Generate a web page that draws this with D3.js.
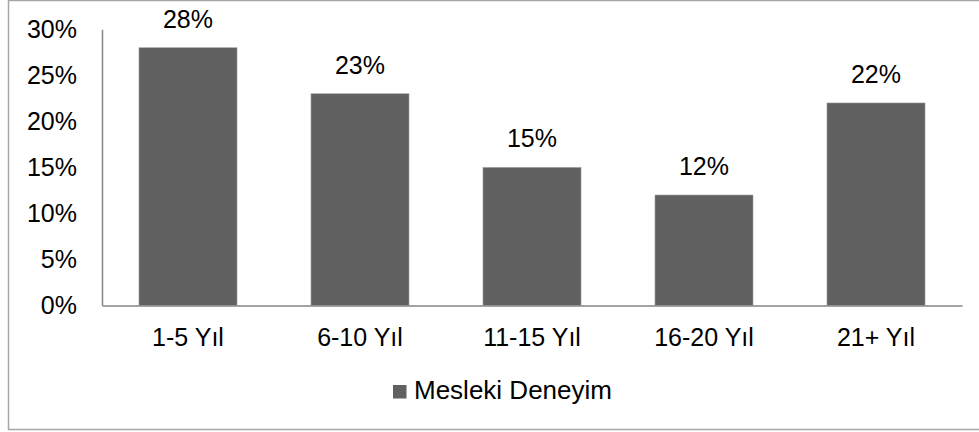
<!DOCTYPE html>
<html>
<head>
<meta charset="utf-8">
<script src="https://cdn.jsdelivr.net/npm/d3@7"></script>
<style>
  body { margin: 0; background: #fff; }
  text { font-family: "Liberation Sans", Arial, sans-serif; fill: #000; }
</style>
</head>
<body>
<div id="chart"></div>
<script>
var categories = ["1-5 Yıl", "6-10 Yıl", "11-15 Yıl", "16-20 Yıl", "21+ Yıl"];
var values = [0.28, 0.23, 0.15, 0.12, 0.22];
var yTicks = [0, 0.05, 0.10, 0.15, 0.20, 0.25, 0.30];
var seriesName = "Mesleki Deneyim";

function init() {
    createBars();
}

function createBars() {
    var width = 979,
        height = 432,
        fontSize = 25;

    var svg = d3.select("div#chart")
        .append("svg")
        .attr("width", width)
        .attr("height", height);

    // outer frame (right edge is off the page)
    svg.append("rect")
        .attr("x", 8.5).attr("y", 0.5)
        .attr("width", 1000).attr("height", 429)
        .attr("fill", "none")
        .attr("stroke", "#a6a6a6")
        .attr("stroke-width", 1.5);

    var x = d3.scaleBand()
        .domain(categories)
        .range([102, 962])
        .paddingInner(0.43)
        .paddingOuter(0.215);

    var y = d3.scaleLinear()
        .domain([0, 0.30])
        .range([305.5, 29.3]);

    var fmt = d3.format(".0%");

    // y axis
    var yAxis = svg.append("g")
        .attr("transform", "translate(102,0)")
        .call(d3.axisLeft(y).tickValues(yTicks).tickFormat(fmt).tickSize(0).tickPadding(25));
    yAxis.select(".domain").attr("stroke", "#868686").attr("stroke-width", 1.5);
    yAxis.selectAll("text")
        .attr("font-size", fontSize)
        .attr("font-family", "Liberation Sans, Arial, sans-serif")
        .attr("fill", "#000");

    // bars
    svg.selectAll("rect.bar")
        .data(values)
        .enter()
        .append("rect")
        .attr("class", "bar")
        .attr("x", function(d, i) { return x(categories[i]); })
        .attr("y", function(d) { return y(d); })
        .attr("width", x.bandwidth())
        .attr("height", function(d) { return y(0) - y(d); })
        .attr("fill", "#616161")
        .attr("stroke", "#a0a0a0")
        .attr("stroke-width", 0.6);

    // x axis
    var xAxis = svg.append("g")
        .attr("transform", "translate(0," + y(0) + ")")
        .call(d3.axisBottom(x).tickSize(0).tickPadding(23));
    xAxis.select(".domain").attr("stroke", "#868686").attr("stroke-width", 1.5);
    xAxis.selectAll("text")
        .attr("font-size", fontSize)
        .attr("font-family", "Liberation Sans, Arial, sans-serif")
        .attr("fill", "#000");

    // value labels
    svg.selectAll("text.val")
        .data(values)
        .enter()
        .append("text")
        .attr("class", "val")
        .attr("text-anchor", "middle")
        .attr("font-size", fontSize)
        .attr("x", function(d, i) { return x(categories[i]) + x.bandwidth() / 2; })
        .attr("y", function(d) { return y(d) - 20; })
        .text(function(d) { return fmt(d); });

    // legend
    var legend = svg.append("g").attr("transform", "translate(393,385)");
    legend.append("rect")
        .attr("width", 13.5).attr("height", 13.5)
        .attr("fill", "#616161");
    legend.append("text")
        .attr("x", 21).attr("y", 14)
        .attr("font-size", 26)
        .text(seriesName);
}

init();
</script>
</body>
</html>
